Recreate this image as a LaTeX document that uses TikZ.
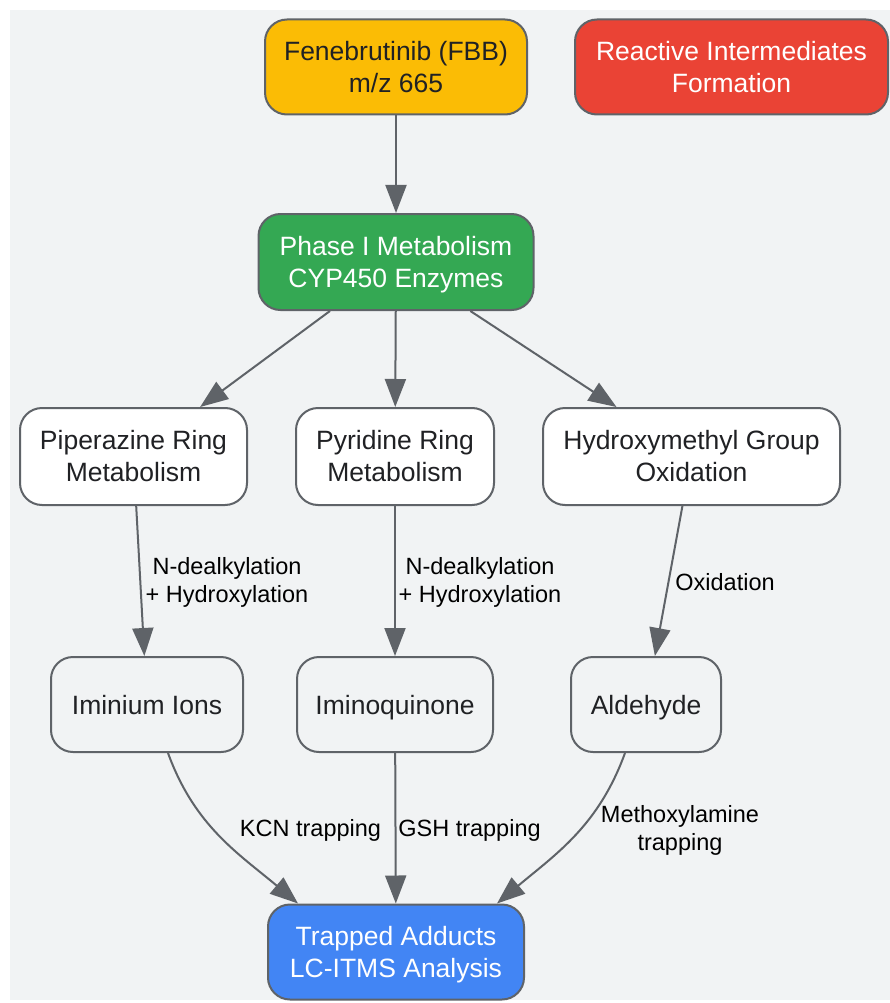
\documentclass[tikz,border=0pt]{standalone}
\usepackage{fontspec}
\setmainfont{Liberation Sans}
\usetikzlibrary{arrows.meta}
\definecolor{bg}{HTML}{F1F3F4}
\definecolor{edge}{HTML}{5F6368}
\definecolor{txt}{HTML}{202124}
\definecolor{cyellow}{HTML}{FBBC05}
\definecolor{cred}{HTML}{EA4335}
\definecolor{cgreen}{HTML}{34A853}
\definecolor{cblue}{HTML}{4285F4}
\newcommand{\twostrut}{\rule[-6pt]{0pt}{62.4pt}}
\newcommand{\onestrut}{\rule[-6pt]{0pt}{32pt}}
\tikzset{
  box/.style={draw=edge, line width=2pt, rounded corners=22pt, align=center,
    font=\fontsize{26.5}{32}\selectfont, text=txt, inner sep=0pt},
  twol/.style={box, execute at begin node=\twostrut},
  onel/.style={box, execute at begin node=\onestrut},
  arr/.style={draw=edge, line width=2pt, -{Triangle[length=28pt,width=21pt]}},
  elabel/.style={font=\fontsize{23.5}{28}\selectfont, text=black, align=center, inner sep=0pt}
}
\begin{document}
\begin{tikzpicture}[x=1pt,y=1pt]
\useasboundingbox (0,0) rectangle (890,-1003);
\fill[bg] (10,-10) rectangle (890,-1000);
% nodes
\node[twol, fill=cyellow, minimum width=262pt, minimum height=95pt] (fbb) at (396,-67) {Fenebrutinib (FBB)\\m/z 665};
\node[twol, fill=cred, text=white, minimum width=313pt, minimum height=95pt] (rif) at (731.5,-67) {Reactive Intermediates\\Formation};
\node[twol, fill=cgreen, text=white, minimum width=275pt, minimum height=96pt] (ph) at (396,-262) {Phase I Metabolism\\CYP450 Enzymes};
\node[twol, fill=white, minimum width=227pt, minimum height=97pt] (pip) at (133.5,-456.5) {Piperazine Ring\\Metabolism};
\node[twol, fill=white, minimum width=198pt, minimum height=97pt] (pyr) at (395,-456.5) {Pyridine Ring\\Metabolism};
\node[twol, fill=white, minimum width=297pt, minimum height=97pt] (hyd) at (691.5,-456.5) {Hydroxymethyl Group\\Oxidation};
\node[onel, fill=bg, minimum width=192pt, minimum height=95pt] (imi) at (147,-704.5) {Iminium Ions};
\node[onel, fill=bg, minimum width=196pt, minimum height=95pt] (imq) at (395,-704.5) {Iminoquinone};
\node[onel, fill=bg, minimum width=150pt, minimum height=95pt] (ald) at (646,-704.5) {Aldehyde};
\node[twol, fill=cblue, text=white, minimum width=256pt, minimum height=95pt] (trap) at (396,-952) {Trapped Adducts\\LC-ITMS Analysis};
% edges
\draw[arr] (fbb) -- (ph);
\draw[arr] (ph) -- (pip);
\draw[arr] (ph) -- (pyr);
\draw[arr] (ph) -- (hyd);
\draw[arr] (pip) -- (imi);
\draw[arr] (pyr) -- (imq);
\draw[arr] (hyd) -- (ald);
\draw[arr] ([xshift=21pt]imi.south) to[out=-70,in=140] ([xshift=-98pt]trap.north);
\draw[arr] (imq) -- (trap);
\draw[arr] ([xshift=-21pt]ald.south) to[out=-110,in=40] ([xshift=101pt]trap.north);
% edge labels
\node[elabel] (l1) at (227,-582) {N-dealkylation\\+ Hydroxylation};
\node[elabel] (l2) at (480,-582) {N-dealkylation\\+ Hydroxylation};
\node[elabel] (l3) at (725,-582) {Oxidation};
\node[elabel] (l4) at (310.5,-830) {KCN trapping};
\node[elabel] (l5) at (469.5,-830) {GSH trapping};
\node[elabel] (l6) at (680,-830) {Methoxylamine\\trapping};
\end{tikzpicture}
\end{document}
